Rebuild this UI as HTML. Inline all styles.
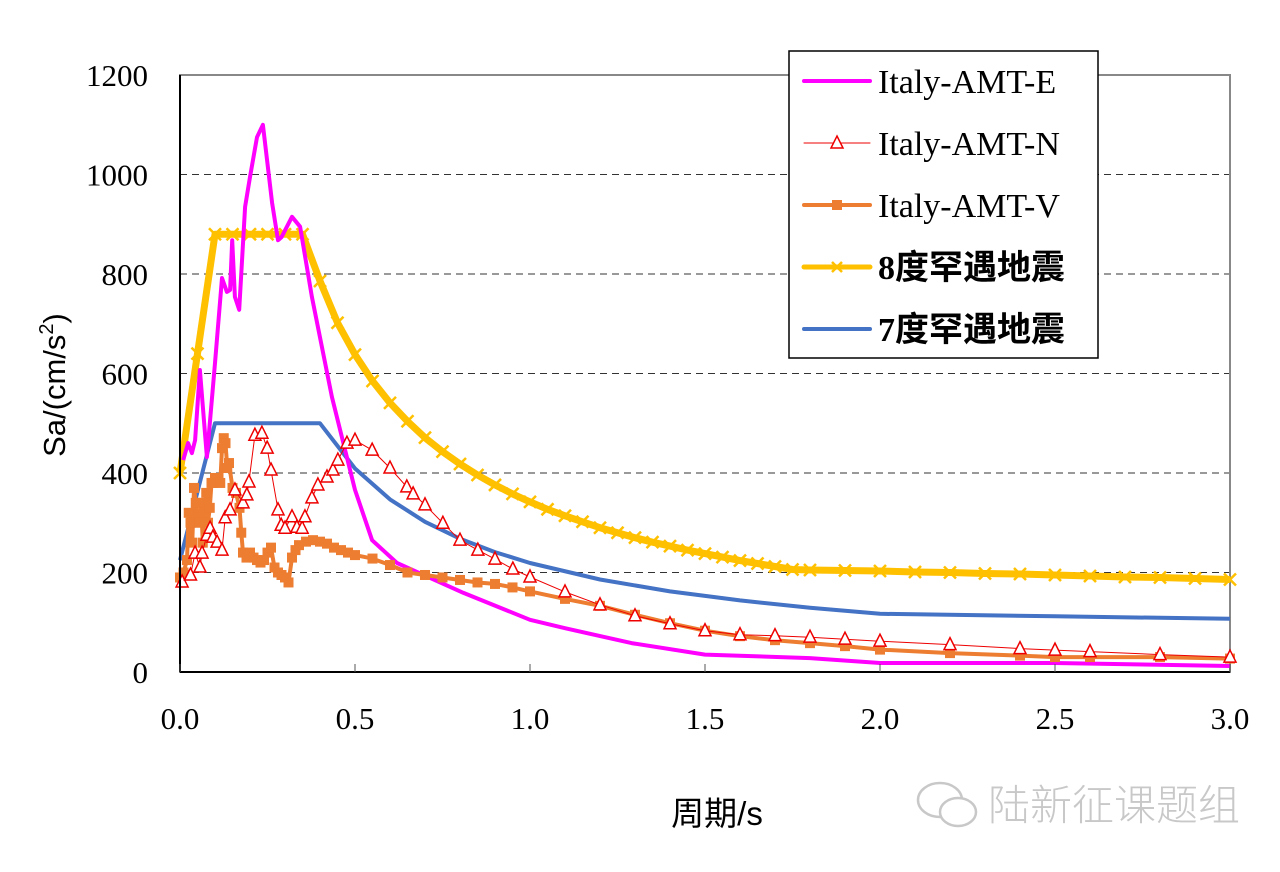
<!DOCTYPE html>
<html><head><meta charset="utf-8"><style>
html,body{margin:0;padding:0;background:#fff;}
svg{display:block;}
</style></head><body>
<svg id="chart" width="1280" height="872" xmlns="http://www.w3.org/2000/svg" font-family="Liberation Serif, Noto Serif CJK SC, serif">
<rect x="0" y="0" width="1280" height="872" fill="#fff"/>
<g id="grid"></g>
<rect x="180" y="75" width="1050" height="597" fill="none" stroke="#888" stroke-width="2"/>
<g id="series"></g>
<g id="axes"></g>
<text transform="translate(65,385) rotate(-90)" text-anchor="middle" font-family="Liberation Sans, sans-serif" font-size="31">Sa/(cm/s<tspan dy="-12" font-size="20">2</tspan><tspan dy="12">)</tspan></text>
<text x="717" y="825" text-anchor="middle" font-family="Liberation Sans, Noto Sans CJK SC, sans-serif" font-size="33">周期/s</text>
<g id="legend">
<rect x="789" y="51" width="309" height="307" fill="#fff" stroke="#000" stroke-width="1.5"/>
</g>
<g>
<g fill="none" stroke="#c8c8c8" stroke-width="2.5">
<ellipse cx="940" cy="800" rx="22" ry="17"/>
<ellipse cx="958" cy="812" rx="18" ry="14" fill="#fff"/>
</g>
<text x="988" y="820" font-family="Noto Sans CJK SC, sans-serif" font-size="42" fill="#c8c8c8" font-weight="300">陆新征课题组</text>
</g>
</svg>
<script>
const NS='http://www.w3.org/2000/svg';
const yTicks=[0,200,400,600,800,1000,1200];
const xTicks=[0.0,0.5,1.0,1.5,2.0,2.5,3.0];
const eT=[0.009,0.023,0.034,0.043,0.057,0.066,0.077,0.1,0.12,0.134,0.143,0.149,0.157,0.169,0.186,0.2,0.22,0.237,0.263,0.28,0.29,0.32,0.343,0.377,0.434,0.5,0.549,0.62,0.81,1.0,1.1,1.29,1.5,1.8,2.0,2.5,3.0];
const eV=[426,460,440,466,607,527,432,621,792,764,768,868,754,728,935,995,1075,1100,943,868,874,915,895,754,553,366,265,219,159,105,88,58,35,28,18,18,12];
const nT=[0.006,0.03,0.043,0.057,0.063,0.077,0.086,0.094,0.106,0.12,0.129,0.143,0.157,0.18,0.191,0.197,0.214,0.234,0.249,0.26,0.28,0.289,0.3,0.32,0.334,0.349,0.357,0.377,0.394,0.42,0.437,0.451,0.477,0.5,0.549,0.6,0.648,0.666,0.7,0.751,0.8,0.851,0.9,0.951,1.0,1.1,1.2,1.3,1.4,1.5,1.6,1.7,1.8,1.9,2.0,2.2,2.4,2.5,2.6,2.8,3.0];
const nV=[181,195,239,211,239,275,289,271,261,245,310,326,366,340,356,382,476,480,450,406,326,295,289,312,291,289,312,350,376,392,406,426,460,466,446,410,372,358,336,299,265,245,227,207,191,161,135,113,97,83,75,73,70,66,62,55,47,44,41,35,30];
const vT=[0.0,0.01,0.02,0.025,0.03,0.035,0.04,0.045,0.05,0.055,0.06,0.065,0.07,0.075,0.08,0.085,0.09,0.095,0.1,0.11,0.115,0.12,0.125,0.13,0.135,0.14,0.15,0.16,0.17,0.175,0.18,0.19,0.2,0.21,0.22,0.23,0.24,0.25,0.26,0.27,0.28,0.29,0.3,0.31,0.32,0.33,0.34,0.36,0.38,0.4,0.42,0.44,0.46,0.48,0.5,0.55,0.6,0.65,0.7,0.75,0.8,0.85,0.9,0.95,1.0,1.1,1.2,1.3,1.4,1.5,1.6,1.7,1.8,1.9,2.0,2.2,2.4,2.5,2.6,2.8,3.0];
const vV=[190,200,225,320,300,260,370,340,310,300,340,260,320,360,300,330,380,380,390,390,380,450,470,460,410,420,370,360,330,280,240,230,240,230,225,220,225,240,250,210,200,195,190,180,230,245,255,262,265,262,258,250,245,240,235,228,215,200,195,190,185,180,177,170,162,147,133,115,98,83,72,64,58,52,45,38,33,30,30,30,27];
const d8T=[0.0,0.05,0.1,0.15,0.2,0.25,0.3,0.35,0.4,0.45,0.5,0.55,0.6,0.65,0.7,0.75,0.8,0.85,0.9,0.95,1.0,1.05,1.1,1.15,1.2,1.25,1.3,1.35,1.4,1.45,1.5,1.55,1.6,1.65,1.7,1.75,1.8,1.9,2.0,2.1,2.2,2.3,2.4,2.5,2.6,2.7,2.8,2.9,3.0];
const d8V=[400,640,880,880,880,880,880,880,786,702,638,585,541,504,471,443,418,396,376,358,342,327,314,302,290,280,270,261,253,245,238,231,224,218,212,206,205,204,203,201,200,198,197,195,193,191,190,188,186];
const d7T=[0.0,0.1,0.2,0.3,0.4,0.5,0.6,0.7,0.8,0.9,1.0,1.2,1.4,1.6,1.8,2.0,2.5,3.0];
const d7V=[225,500,500,500,500,409,347,302,268,241,219,186,162,144,129,117,112,107];

const X=t=>180+t*350;
const Y=v=>672-v*597/1200;
function mk(tag,attrs,parent){const e=document.createElementNS(NS,tag);for(const k in attrs)e.setAttribute(k,attrs[k]);parent.appendChild(e);return e;}
const grid=document.getElementById('grid'),axes=document.getElementById('axes'),ser=document.getElementById('series'),leg=document.getElementById('legend');

yTicks.forEach(v=>{
  if(v>0&&v<1200){const l=mk('line',{x1:180,x2:1230,y1:Y(v),y2:Y(v),stroke:'#333','stroke-width':1,'stroke-dasharray':'7,5'},grid);
  
  }
  const t=mk('text',{x:148,y:Y(v)+11,'text-anchor':'end','font-size':31},axes);
  
  
  t.textContent=v;
});
mk('line',{x1:180,x2:180,y1:75,y2:672,stroke:'#000','stroke-width':2},axes);
mk('line',{x1:180,x2:1230,y1:672,y2:672,stroke:'#000','stroke-width':2},axes);
xTicks.forEach(v=>{
  mk('line',{x1:X(v),x2:X(v),y1:672,y2:664,stroke:'#555','stroke-width':1},axes);
  const t=mk('text',{x:X(v),y:729,'text-anchor':'middle','font-size':31},axes);
  
  
  t.textContent=v.toFixed(1);
});

function path(T,V){return T.map((t,i)=>(i?'L':'M')+X(t).toFixed(1)+','+Y(V[i]).toFixed(1)).join(' ');}
function line(T,V,color,w,name){const p=mk('path',{d:path(T,V),fill:'none',stroke:color,'stroke-width':w,'stroke-linejoin':'round'},ser);
  
  }
function xmark(cx,cy,c,g,s){s=s||5;mk('path',{d:`M${cx-s},${cy-s}L${cx+s},${cy+s}M${cx-s},${cy+s}L${cx+s},${cy-s}`,stroke:c,'stroke-width':2.5},g);}
function tri(cx,cy,g){mk('path',{d:`M${cx},${cy-7}L${cx+6},${cy+5}L${cx-6},${cy+5}Z`,fill:'#fff',stroke:'#e00','stroke-width':1.5},g);}
function sq(cx,cy,g){mk('rect',{x:cx-5,y:cy-5,width:10,height:10,fill:'#ed7d31'},g);}

line(d8T,d8V,'#ffc000',7,'series-8-degree');
const g8=mk('g',{},ser);
d8T.forEach((t,i)=>xmark(X(t),Y(d8V[i]),'#ffc000',g8,6));
line(d7T,d7V,'#4472c4',4,'series-7-degree');
line(eT,eV,'#ff00ff',4,'series-italy-amt-e');
line(vT,vV,'#ed7d31',4,'series-italy-amt-v');
const gv=mk('g',{},ser);
vT.forEach((t,i)=>sq(X(t),Y(vV[i]),gv));
line(nT,nV,'#e00',1,'series-italy-amt-n');
const gn=mk('g',{},ser);
nT.forEach((t,i)=>tri(X(t),Y(nV[i]),gn));

const entries=[['Italy-AMT-E','#ff00ff',4,null],['Italy-AMT-N','#e00',1,'tri'],['Italy-AMT-V','#ed7d31',4,'sq'],['8度罕遇地震','#ffc000',5,'x'],['7度罕遇地震','#4472c4',4,null]];
entries.forEach((e,i)=>{
  const y=81+i*62;
  const g=mk('g',{},leg);
  
  
  mk('line',{x1:804,x2:870,y1:y,y2:y,stroke:e[1],'stroke-width':e[2],'stroke-linecap':'round'},g);
  if(e[3]==='tri')tri(837,y,g);if(e[3]==='sq')sq(837,y,g);if(e[3]==='x')xmark(837,y,e[1],g);
  const t=mk('text',{x:878,y:y+12,'font-size':34,'font-family':'Liberation Serif, Noto Sans CJK SC, sans-serif','font-weight':i>=3?'bold':'normal'},g);
  t.textContent=e[0];
});
</script>
</body></html>
